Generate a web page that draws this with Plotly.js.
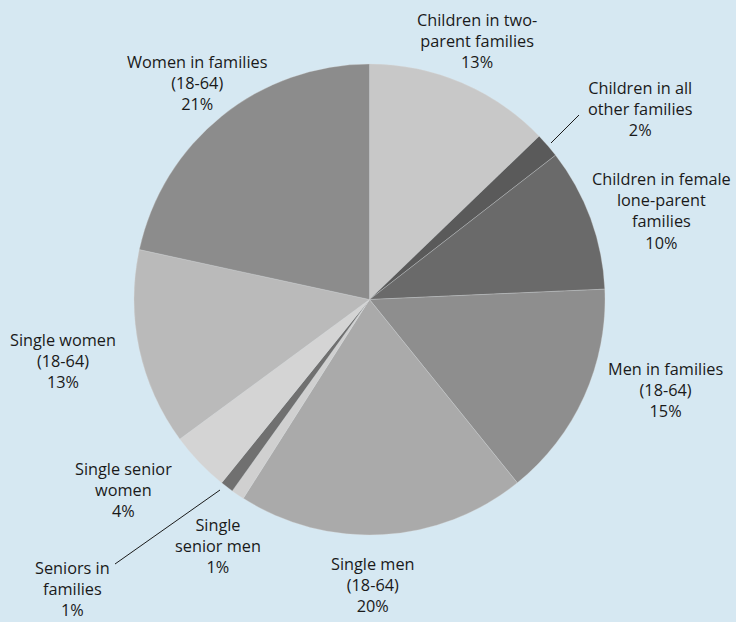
<!DOCTYPE html>
<html>
<head>
<meta charset="utf-8">
<script src="https://cdn.plot.ly/plotly-3.0.1.min.js"></script>
<style>
  html, body { margin: 0; padding: 0; background: #d6e8f2; }
  #chart { width: 736px; height: 622px; }
</style>
</head>
<body>
<div id="chart"></div>
<script>
// ---- Data ----
const categories = [
  "Children in two-parent families",
  "Children in all other families",
  "Children in female lone-parent families",
  "Men in families (18-64)",
  "Single men (18-64)",
  "Single senior men",
  "Seniors in families",
  "Single senior women",
  "Single women (18-64)",
  "Women in families (18-64)"
];
const shares = [12.8, 1.7, 9.8, 14.9, 19.8, 0.9, 0.9, 4.1, 13.5, 21.6];
const labelTexts = [
  "Children in two-<br>parent families<br>13%",
  "Children in all<br>other families<br>2%",
  "Children in female<br>lone-parent<br>families<br>10%",
  "Men in families<br>(18-64)<br>15%",
  "Single men<br>(18-64)<br>20%",
  "Single<br>senior men<br>1%",
  "Seniors in<br>families<br>1%",
  "Single senior<br>women<br>4%",
  "Single women<br>(18-64)<br>13%",
  "Women in families<br>(18-64)<br>21%"
];

// ---- Styling / layout ----
const W = 736, H = 622;
const sliceColors = ["#c8c8c8", "#5a5a5a", "#6a6a6a", "#8e8e8e", "#aaaaaa",
                     "#d0d0d0", "#707070", "#d4d4d4", "#bababa", "#8c8c8c"];
// label centers in pixels
const labelPos = [
  [477, 41], [640, 109], [661, 211], [665, 390], [373, 585],
  [218, 546], [72, 589], [123, 490], [63, 361], [197, 83]
];
const px = x => x / W;
const py = y => 1 - y / H;

const cx = 369.5, cy = 299.5, r = 235.5;

const annotations = labelTexts.map((t, i) => ({
  text: t, xref: "paper", yref: "paper",
  x: px(labelPos[i][0]), y: py(labelPos[i][1]),
  xanchor: "center", yanchor: "middle", showarrow: false, align: "center",
  font: { family: "Open Sans, sans-serif", size: 16.3, color: "#1a1a1a" }
}));

const leaders = [
  [551, 143, 579, 115],
  [220, 490, 115, 564]
].map(l => ({
  type: "line", xref: "paper", yref: "paper",
  x0: px(l[0]), y0: py(l[1]), x1: px(l[2]), y1: py(l[3]),
  line: { color: "#1a1a1a", width: 1 }
}));

const trace = {
  type: "pie",
  labels: categories,
  values: shares,
  sort: false,
  direction: "clockwise",
  rotation: 0,
  textinfo: "none",
  hoverinfo: "label+percent",
  marker: { colors: sliceColors, line: { color: "#d8d8d8", width: 0.3 } },
  domain: { x: [px(cx - r), px(cx + r)], y: [py(cy + r), py(cy - r)] },
  showlegend: false
};

const layout = {
  width: W, height: H,
  margin: { l: 0, r: 0, t: 0, b: 0 },
  paper_bgcolor: "#d6e8f2",
  plot_bgcolor: "#d6e8f2",
  showlegend: false,
  annotations: annotations,
  shapes: leaders
};

Plotly.newPlot("chart", [trace], layout, { displayModeBar: false, staticPlot: true });
</script>
</body>
</html>
